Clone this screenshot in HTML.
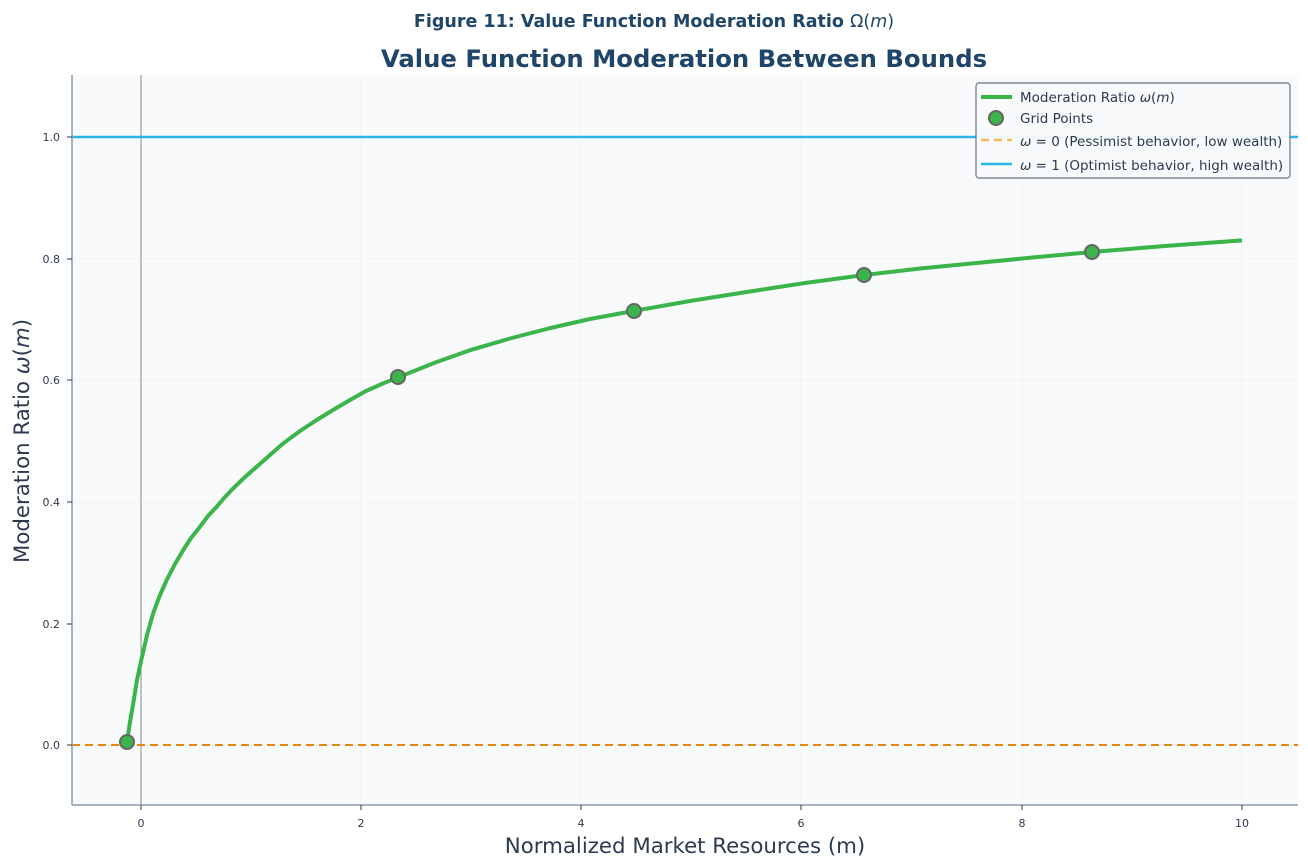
<!DOCTYPE html>
<html><head><meta charset="utf-8"><style>
body{margin:0;background:#fff;}
svg{display:block;font-family:"DejaVu Sans","Liberation Sans",sans-serif;}
</style></head><body>
<svg width="1308" height="867" viewBox="0 0 1308 867">
<rect width="1308" height="867" fill="#fff"/>
<text x="654" y="27" text-anchor="middle" font-size="17.5" font-weight="bold" fill="#1f4568">Figure 11: Value Function Moderation Ratio <tspan font-weight="normal">Ω(<tspan font-style="italic">m</tspan>)</tspan></text>
<text x="684" y="67" text-anchor="middle" font-size="24.3" font-weight="bold" fill="#1f4568">Value Function Moderation Between Bounds</text>
<rect x="72" y="75" width="1226" height="730" fill="#f8fafc"/>
<g stroke="#f0f2f5" stroke-width="1">
<line x1="141" y1="75" x2="141" y2="805"/><line x1="361" y1="75" x2="361" y2="805"/><line x1="581" y1="75" x2="581" y2="805"/><line x1="801" y1="75" x2="801" y2="805"/><line x1="1022" y1="75" x2="1022" y2="805"/><line x1="1242" y1="75" x2="1242" y2="805"/>
<line x1="72" y1="745" x2="1298" y2="745"/><line x1="72" y1="624" x2="1298" y2="624"/><line x1="72" y1="502" x2="1298" y2="502"/><line x1="72" y1="380" x2="1298" y2="380"/><line x1="72" y1="259" x2="1298" y2="259"/><line x1="72" y1="137" x2="1298" y2="137"/>
</g>
<line x1="141" y1="75" x2="141" y2="805" stroke="#888" stroke-width="1"/>
<line x1="72" y1="745" x2="1298" y2="745" stroke="#e08a10" stroke-width="2" stroke-dasharray="8,5"/>
<line x1="72" y1="137" x2="1298" y2="137" stroke="#2bb5e8" stroke-width="2.5"/>
<polyline fill="none" stroke="#3bb44a" stroke-width="4" stroke-linejoin="round" points="127,742 130,722 133.3,703 137,680 141.3,660 147,635 153.3,613 160,595 166.7,580 175,564 183.3,550 191,538 200,526.7 208,516 216.7,506.7 225,497 233.3,488.3 245,477 256.7,466.7 270,455 283.3,443.3 300,431 316.7,420 333,410 350,400 366,391 383.3,383.3 398.6,377.2 434,363 471.3,349.8 510,338.5 548.4,328.5 590,319 634.2,310.9 690,301 746.6,292 805,283 864.4,275 920,268.5 977.8,262.9 1035,257.3 1093.4,251.9 1165,246 1242,240.4"/>
<g fill="#3bb44a" stroke="#666" stroke-width="2">
<circle cx="127" cy="742" r="7"/><circle cx="398" cy="377" r="7"/><circle cx="634" cy="311" r="7"/><circle cx="864" cy="275" r="7"/><circle cx="1092" cy="252" r="7"/>
</g>
<line x1="72" y1="75" x2="72" y2="805" stroke="#8a9bb0" stroke-width="1.5"/>
<line x1="72" y1="805" x2="1298" y2="805" stroke="#8a9bb0" stroke-width="1.5"/>
<g font-size="11" fill="#2d3a4f" text-anchor="middle">
<text x="141" y="827">0</text><text x="361" y="827">2</text><text x="581" y="827">4</text><text x="801" y="827">6</text><text x="1022" y="827">8</text><text x="1242" y="827">10</text>
</g>
<g font-size="11" fill="#2d3a4f" text-anchor="end">
<text x="60" y="749">0.0</text><text x="60" y="628">0.2</text><text x="60" y="506">0.4</text><text x="60" y="384">0.6</text><text x="60" y="263">0.8</text><text x="60" y="141">1.0</text>
</g>
<g stroke="#2d3a4f"><line x1="67" y1="745" x2="72" y2="745"/><line x1="67" y1="624" x2="72" y2="624"/><line x1="67" y1="502" x2="72" y2="502"/><line x1="67" y1="380" x2="72" y2="380"/><line x1="67" y1="259" x2="72" y2="259"/><line x1="67" y1="137" x2="72" y2="137"/>
<line x1="141" y1="805" x2="141" y2="810"/><line x1="361" y1="805" x2="361" y2="810"/><line x1="581" y1="805" x2="581" y2="810"/><line x1="801" y1="805" x2="801" y2="810"/><line x1="1022" y1="805" x2="1022" y2="810"/><line x1="1242" y1="805" x2="1242" y2="810"/></g>
<text x="685" y="853" text-anchor="middle" font-size="21.3" fill="#2d3a4f">Normalized Market Resources (m)</text>
<text transform="translate(29,441) rotate(-90)" text-anchor="middle" font-size="21.3" fill="#2d3a4f">Moderation Ratio <tspan font-style="italic">ω</tspan>(<tspan font-style="italic">m</tspan>)</text>
<rect x="976" y="83" width="314" height="95" rx="3" fill="#f8fafc" fill-opacity="0.95" stroke="#6b7280" stroke-width="1.2"/>
<line x1="981" y1="97" x2="1012" y2="97" stroke="#3bb44a" stroke-width="4"/>
<circle cx="996" cy="118" r="7" fill="#3bb44a" stroke="#666" stroke-width="2"/>
<line x1="981" y1="140" x2="1012" y2="140" stroke="#f5b95c" stroke-width="2.5" stroke-dasharray="8,5"/>
<line x1="981" y1="164" x2="1012" y2="164" stroke="#2bb5e8" stroke-width="2.5"/>
<g font-size="13.5" fill="#2d3a4f">
<text x="1020" y="102">Moderation Ratio <tspan font-style="italic">ω</tspan>(<tspan font-style="italic">m</tspan>)</text>
<text x="1020" y="123">Grid Points</text>
<text x="1020" y="146"><tspan font-style="italic">ω</tspan> = 0 (Pessimist behavior, low wealth)</text>
<text x="1020" y="170"><tspan font-style="italic">ω</tspan> = 1 (Optimist behavior, high wealth)</text>
</g>
</svg>
</body></html>
